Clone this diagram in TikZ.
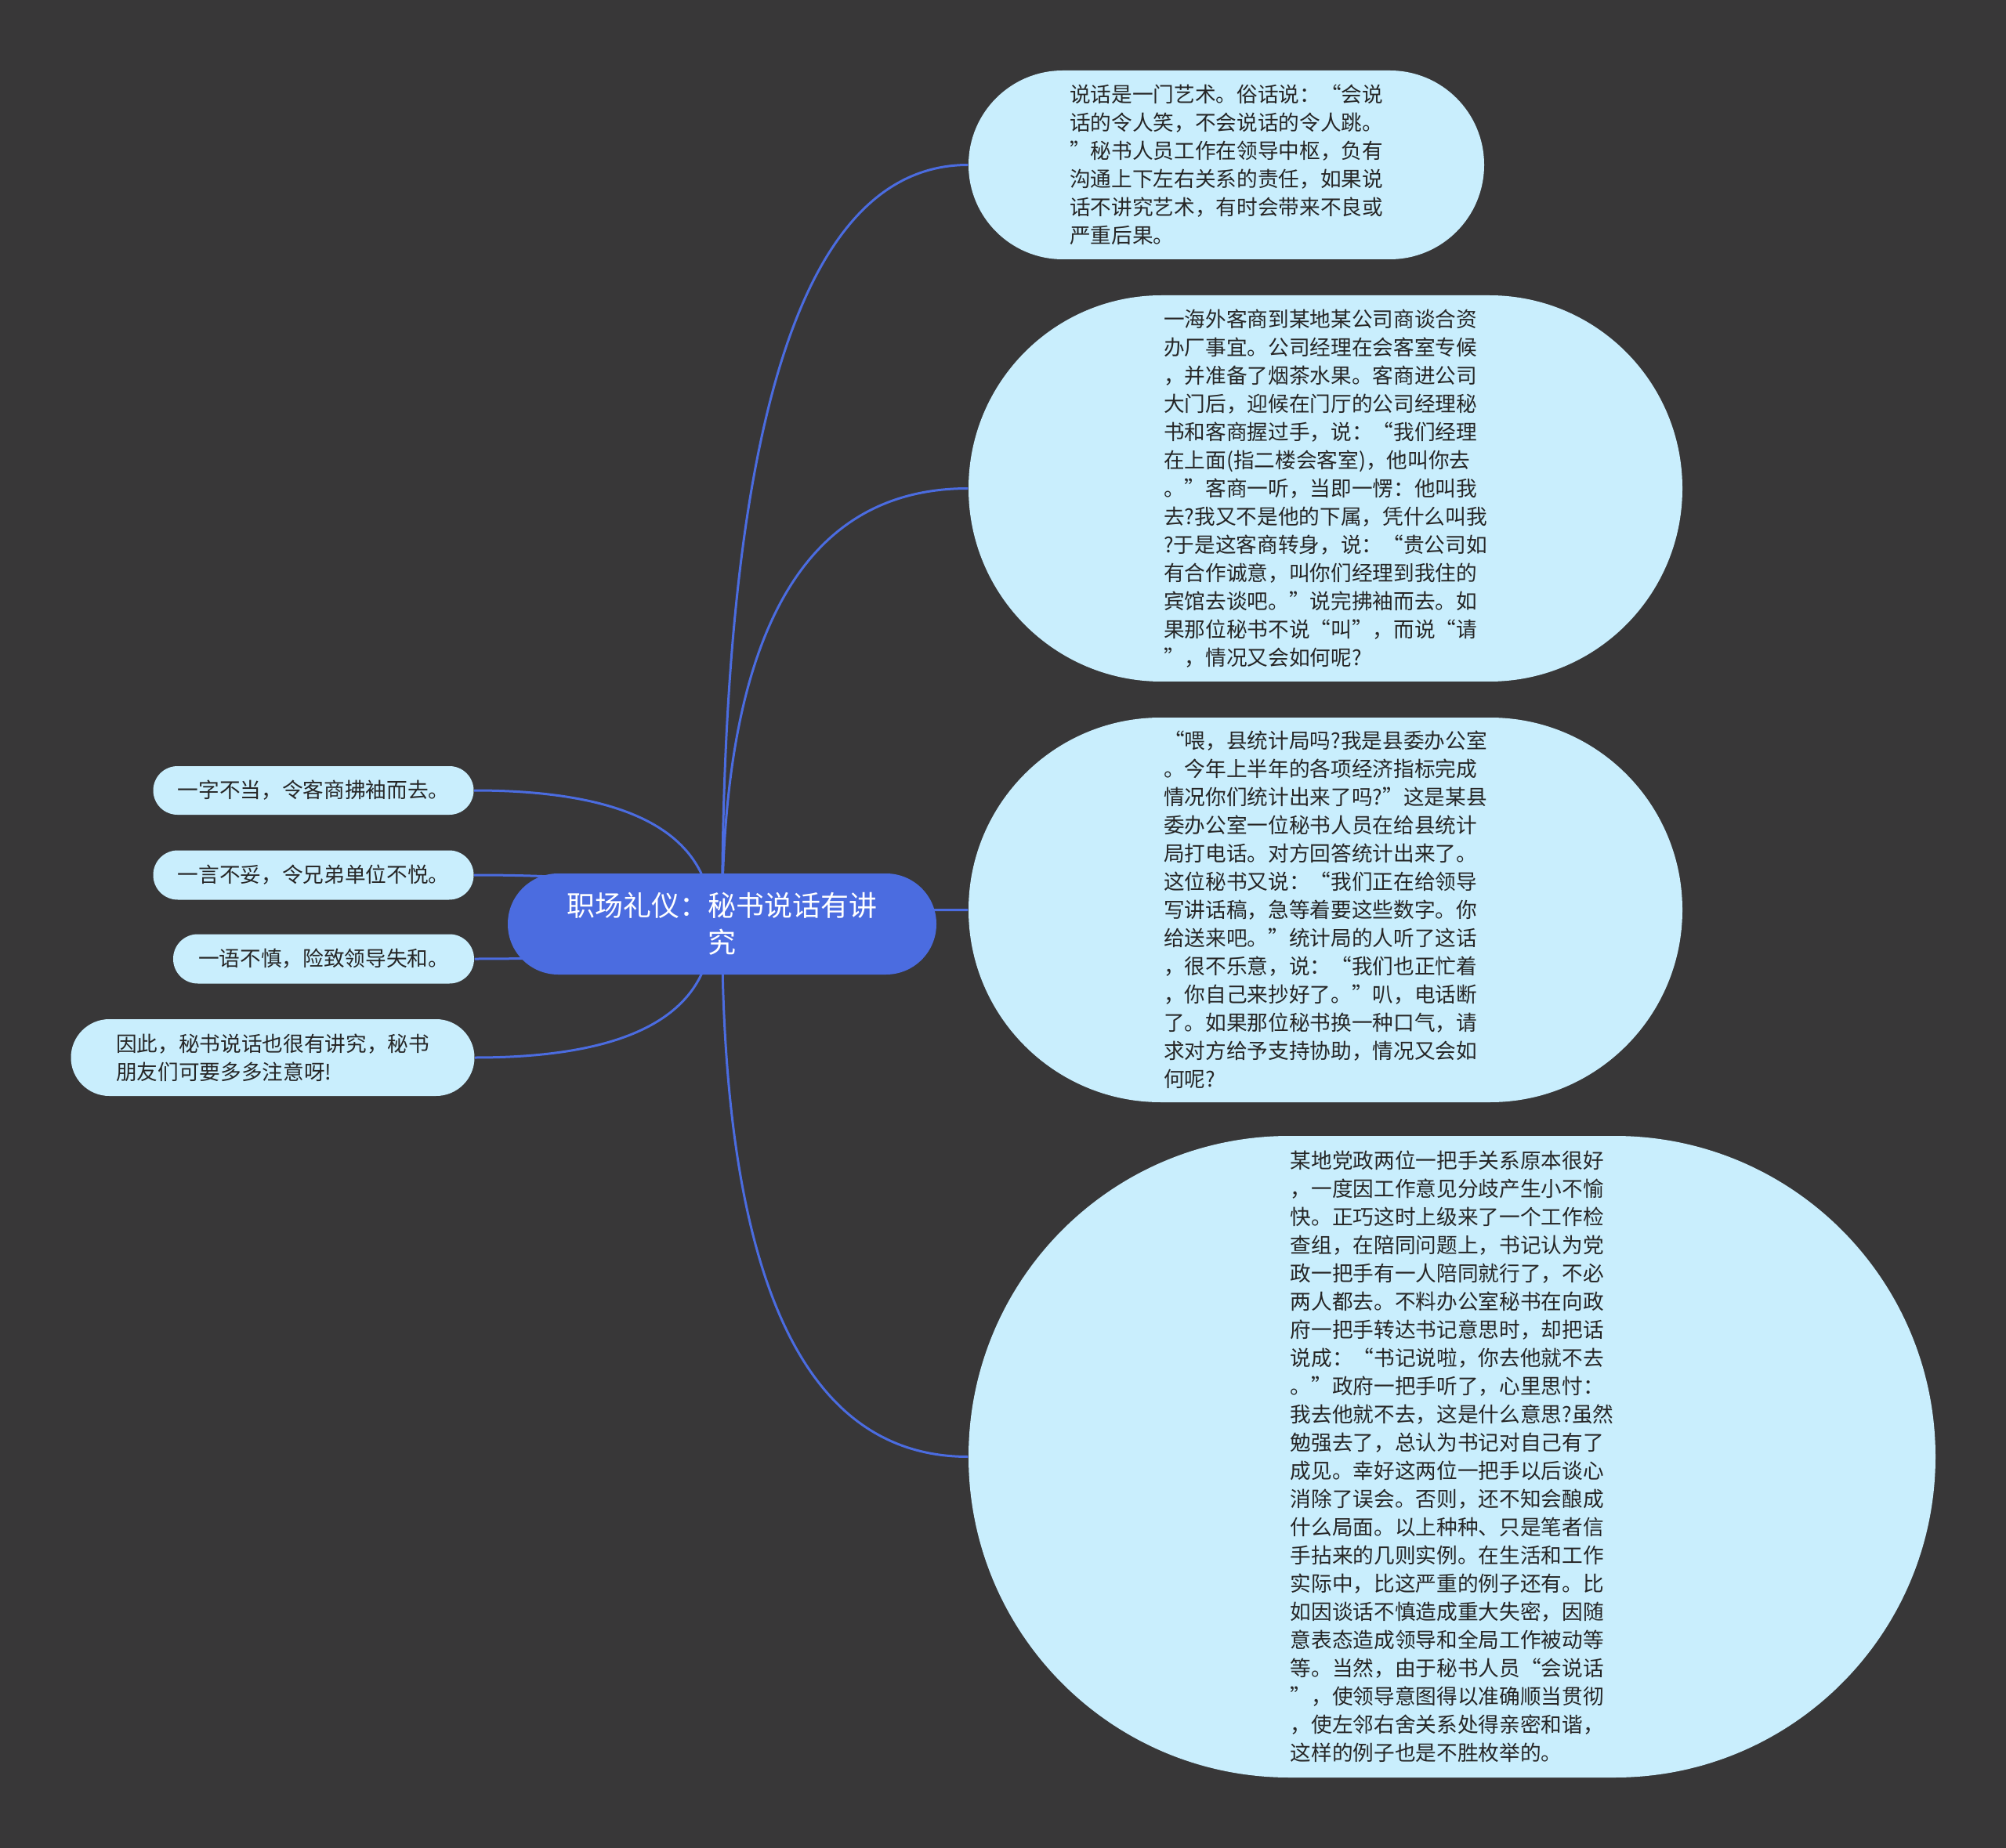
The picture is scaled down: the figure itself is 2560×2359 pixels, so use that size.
\documentclass[tikz,border=0pt]{standalone}
\usepackage{fontspec}
\setmainfont{Noto Sans CJK SC}
\usetikzlibrary{calc}
\definecolor{bgdark}{HTML}{383738}
\definecolor{rootblue}{HTML}{4B6CE0}
\definecolor{leafblue}{HTML}{C9EEFD}
\definecolor{leaftext}{HTML}{262626}
\pgfdeclarelayer{back}
\pgfsetlayers{back,main}
\begin{document}
\begin{tikzpicture}[x=0.3pt,y=-0.3pt,
    rootbox/.style={fill=rootblue, text=white, inner sep=0pt, align=center,
        font=\fontsize{10.8pt}{14.1pt}\selectfont},
    leafbox/.style={fill=leafblue, text=leaftext, inner sep=0pt, align=left,
        font=\fontsize{8pt}{10.8pt}\selectfont},
    branch/.style={draw=rootblue, line width=0.9pt,
        to path={.. controls ($(\tikztostart)!0.667!(\tikztostart |- \tikztotarget)$)
            and ($(\tikztotarget)!0.667!(\tikztostart |- \tikztotarget)$) .. (\tikztotarget)}}]
        % frame
        \useasboundingbox (0,0) rectangle (2560,2359);
        % root
        \node[rootbox, minimum width=164.1pt, minimum height=38.7pt, rounded corners=19.3pt] (root) at (921.5,1179.5)
            {职场礼仪：秘书说话有讲\\究};
        % right leaves
        \node[leafbox, minimum width=197.4pt, minimum height=72.3pt, rounded corners=36.1pt] (talk) at (1565,210.5)
            {说话是一门艺术。俗话说：“会说\\话的令人笑，不会说话的令人跳。\\”秘书人员工作在领导中枢，负有\\沟通上下左右关系的责任，如果说\\话不讲究艺术，有时会带来不良或\\严重后果。};
        \node[leafbox, minimum width=273.3pt, minimum height=147.9pt, rounded corners=73.9pt] (guest) at (1691.5,623.5)
            {一海外客商到某地某公司商谈合资\\办厂事宜。公司经理在会客室专候\\，并准备了烟茶水果。客商进公司\\大门后，迎候在门厅的公司经理秘\\书和客商握过手，说：“我们经理\\在上面(指二楼会客室)，他叫你去\\。”客商一听，当即一愣：他叫我\\去?我又不是他的下属，凭什么叫我\\?于是这客商转身，说：“贵公司如\\有合作诚意，叫你们经理到我住的\\宾馆去谈吧。”说完拂袖而去。如\\果那位秘书不说“叫”，而说“请\\”，情况又会如何呢?};
        \node[leafbox, minimum width=273.3pt, minimum height=147.3pt, rounded corners=73.6pt] (phone) at (1691.5,1161.5)
            {“喂，县统计局吗?我是县委办公室\\。今年上半年的各项经济指标完成\\情况你们统计出来了吗?”这是某县\\委办公室一位秘书人员在给县统计\\局打电话。对方回答统计出来了。\\这位秘书又说：“我们正在给领导\\写讲话稿，急等着要这些数字。你\\给送来吧。”统计局的人听了这话\\，很不乐意，说：“我们也正忙着\\，你自己来抄好了。”叭，电话断\\了。如果那位秘书换一种口气，请\\求对方给予支持协助，情况又会如\\何呢?};
        \node[leafbox, minimum width=370.2pt, minimum height=245.7pt, rounded corners=122.8pt] (leader) at (1853,1859.5)
            {某地党政两位一把手关系原本很好\\，一度因工作意见分歧产生小不愉\\快。正巧这时上级来了一个工作检\\查组，在陪同问题上，书记认为党\\政一把手有一人陪同就行了，不必\\两人都去。不料办公室秘书在向政\\府一把手转达书记意思时，却把话\\说成：“书记说啦，你去他就不去\\。”政府一把手听了，心里思忖：\\我去他就不去，这是什么意思?虽然\\勉强去了，总认为书记对自己有了\\成见。幸好这两位一把手以后谈心\\消除了误会。否则，还不知会酿成\\什么局面。以上种种、只是笔者信\\手拈来的几则实例。在生活和工作\\实际中，比这严重的例子还有。比\\如因谈话不慎造成重大失密，因随\\意表态造成领导和全局工作被动等\\等。当然，由于秘书人员“会说话\\”，使领导意图得以准确顺当贯彻\\，使左邻右舍关系处得亲密和谐，\\这样的例子也是不胜枚举的。};
        % left leaves
        \node[leafbox, minimum width=122.7pt, minimum height=18.6pt, rounded corners=9.3pt] (word) at (400,1009)
            {一字不当，令客商拂袖而去。};
        \node[leafbox, minimum width=122.7pt, minimum height=18.9pt, rounded corners=9.4pt] (unit) at (400,1117)
            {一言不妥，令兄弟单位不悦。};
        \node[leafbox, minimum width=115.2pt, minimum height=18.9pt, rounded corners=9.4pt] (care) at (413,1224)
            {一语不慎，险致领导失和。};
        \node[leafbox, minimum width=154.5pt, minimum height=29.4pt, rounded corners=14.7pt] (sum) at (348,1350)
            {因此，秘书说话也很有讲究，秘书\\朋友们可要多多注意呀!};
        % branches
        \begin{pgfonlayer}{back}
            \fill[bgdark] (0,0) rectangle (2560,2359);
            \coordinate (lroot) at ([xshift=-3.9pt]root.center);
            \draw[branch] (root.center) to (talk.west);
            \draw[branch] (root.center) to (guest.west);
            \draw[branch] (root.center) to (phone.west);
            \draw[branch] (root.center) to (leader.west);
            \draw[branch] (lroot) to (word.east);
            \draw[branch] (lroot) to (unit.east);
            \draw[branch] (lroot) to (care.east);
            \draw[branch] (lroot) to (sum.east);
        \end{pgfonlayer}
\end{tikzpicture}
\end{document}
